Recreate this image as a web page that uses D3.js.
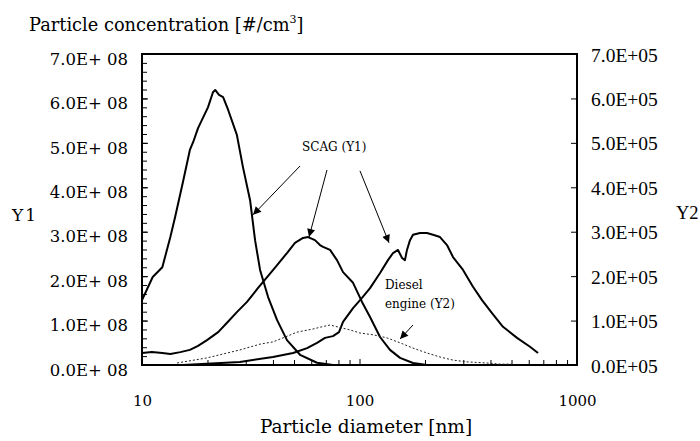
<!DOCTYPE html>
<html>
<head>
<meta charset="utf-8">
<script src="https://cdn.jsdelivr.net/npm/d3@7"></script>
<style>
  body { margin: 0; background: #fff; }
  svg { display: block; }
</style>
</head>
<body>
<script>
// SCAG (Y1) - ultrafine mode, peak near 22 nm
const scagFineD = [10, 11.2, 12.4, 13.5, 14.2, 15.4, 16.6, 17.2, 18.1, 20.1, 21.2, 21.7, 22.6, 23.6, 24.9, 27.3, 29.1, 31.4, 33.1, 34.9, 38.0, 41.8, 46.4, 53.3, 63.8, 75.5, 100, 150];
const scagFineN = [1.46e8, 1.98e8, 2.2e8, 2.88e8, 3.33e8, 4.1e8, 4.84e8, 5.02e8, 5.33e8, 5.8e8, 6.14e8, 6.19e8, 6.08e8, 6.03e8, 5.74e8, 5.18e8, 4.46e8, 3.71e8, 2.81e8, 2.14e8, 1.53e8, 1.01e8, 0.56e8, 0.23e8, 0.05e8, 0, 0, 0];

// SCAG (Y1) - middle mode, peak near 58 nm
const scagMidD = [10, 11.1, 12.4, 13.5, 15.0, 16.6, 18.1, 19.9, 22.4, 24.6, 27.3, 30.4, 34.1, 37.6, 41.8, 46.4, 50.5, 55.0, 58.0, 62.4, 65.8, 68.0, 73.2, 78.8, 84.0, 93.4, 102.7, 111.8, 124.3, 138.1, 153.6, 176.2, 204.3, 290];
const scagMidN = [0.27e8, 0.29e8, 0.27e8, 0.25e8, 0.29e8, 0.34e8, 0.43e8, 0.56e8, 0.74e8, 0.95e8, 1.19e8, 1.42e8, 1.73e8, 1.98e8, 2.25e8, 2.52e8, 2.75e8, 2.86e8, 2.88e8, 2.81e8, 2.7e8, 2.66e8, 2.59e8, 2.36e8, 2.09e8, 1.85e8, 1.42e8, 1.08e8, 0.63e8, 0.34e8, 0.16e8, 0.045e8, 0, 0];

// SCAG (Y1) - coarse mode, peak near 200 nm
const scagCoarseD = [15.4, 28.2, 40.0, 49.5, 57.4, 63.8, 69.4, 75.5, 80.5, 84.0, 93.4, 102.7, 111.8, 124.3, 135.2, 142.6, 150.3, 156.8, 161.8, 165.3, 170.7, 176.2, 189.8, 204.3, 217.7, 234.5, 252.5, 269.1, 299.2, 332.5, 365.8, 406.7, 456.8, 530, 608, 662];
const scagCoarseN = [0, 0.07e8, 0.18e8, 0.27e8, 0.38e8, 0.5e8, 0.61e8, 0.65e8, 0.74e8, 0.97e8, 1.28e8, 1.51e8, 1.73e8, 2.07e8, 2.36e8, 2.52e8, 2.59e8, 2.41e8, 2.36e8, 2.59e8, 2.81e8, 2.93e8, 2.97e8, 2.97e8, 2.93e8, 2.88e8, 2.7e8, 2.43e8, 2.14e8, 1.76e8, 1.46e8, 1.17e8, 0.86e8, 0.61e8, 0.41e8, 0.27e8];

// Diesel engine (Y2)
const dieselD = [14.5, 19.9, 28.2, 34.9, 40.0, 44.5, 51.6, 61.1, 67.2, 73.2, 80.5, 90.4, 100.5, 115.4, 133.8, 153.6, 176.2, 204.3, 234.5, 269.1, 312.2, 385.7, 442.6, 502.4];
const dieselN = [0.045e5, 0.16e5, 0.34e5, 0.47e5, 0.52e5, 0.61e5, 0.74e5, 0.81e5, 0.86e5, 0.9e5, 0.85e5, 0.79e5, 0.72e5, 0.68e5, 0.61e5, 0.5e5, 0.38e5, 0.27e5, 0.18e5, 0.11e5, 0.07e5, 0.045e5, 0.02e5, 0.02e5];

const y1Ticks = [0, 1e8, 2e8, 3e8, 4e8, 5e8, 6e8, 7e8];
const y2Ticks = [0, 1e5, 2e5, 3e5, 4e5, 5e5, 6e5, 7e5];
const xTicks = [10, 100, 1000];

// annotations, in data coordinates [diameter, Y1 value]
const scagArrows = [
  [[53.3, 4.48e8], [32.4, 3.38e8]],
  [[70.9, 4.39e8], [58.6, 2.88e8]],
  [[100.5, 4.37e8], [136.7, 2.75e8]]
];
const dieselArrow = [[176.2, 0.9e8], [153.6, 0.585e8]];

const width = 700, height = 441;
const margin = { top: 54, right: 123, bottom: 76, left: 142 };

const svg = d3.select('body').append('svg')
  .attr('width', width)
  .attr('height', height);

const x = d3.scaleLog().domain([10, 1000]).range([margin.left, width - margin.right]);
const y1 = d3.scaleLinear().domain([0, 7e8]).range([height - margin.bottom, margin.top]);
const y2 = d3.scaleLinear().domain([0, 7e5]).range([height - margin.bottom, margin.top]);

const serifA = 'DejaVu Serif, serif';
const serifB = 'Liberation Serif, Times New Roman, serif';

// minor ticks
const y1Minor = d3.range(0, 7e8 + 1, 2e7);
const xMinor = [20, 30, 40, 50, 60, 70, 80, 90, 200, 300, 400, 500, 600, 700, 800, 900];

svg.append('g')
  .attr('transform', `translate(${margin.left},0)`)
  .call(d3.axisLeft(y1).tickValues(y1Minor).tickSize(-5).tickFormat(''))
  .call(g => g.select('.domain').remove());

svg.append('g')
  .attr('transform', `translate(${margin.left},0)`)
  .call(d3.axisLeft(y1).tickValues(y1Ticks).tickSize(-6).tickPadding(14)
    .tickFormat(d => (d / 1e8).toFixed(1) + 'E+ 08'))
  .call(g => g.select('.domain').remove())
  .call(g => g.selectAll('text')
    .attr('font-family', serifA).attr('font-size', 16.5).attr('dy', '0.62em'));

svg.append('g')
  .attr('transform', `translate(${width - margin.right},0)`)
  .call(d3.axisRight(y2).tickValues(y2Ticks).tickSize(-6).tickPadding(14)
    .tickFormat(d => (d / 1e5).toFixed(1) + 'E+05'))
  .call(g => g.select('.domain').remove())
  .call(g => g.selectAll('text')
    .attr('font-family', serifB).attr('font-size', 19.5).attr('dy', '0.36em'));

svg.append('g')
  .attr('transform', `translate(0,${height - margin.bottom})`)
  .call(d3.axisBottom(x).tickValues(xMinor).tickSize(-5).tickFormat(''))
  .call(g => g.select('.domain').remove());

svg.append('g')
  .attr('transform', `translate(0,${height - margin.bottom})`)
  .call(d3.axisBottom(x).tickValues(xTicks).tickSize(-6).tickPadding(30).tickFormat(d3.format('d')))
  .call(g => g.select('.domain').remove())
  .call(g => g.selectAll('text')
    .attr('font-family', serifA).attr('font-size', 15));

svg.selectAll('.tick line').attr('stroke', '#000').attr('stroke-width', 1);

// plot frame
svg.append('rect')
  .attr('x', margin.left)
  .attr('y', margin.top)
  .attr('width', width - margin.left - margin.right)
  .attr('height', height - margin.top - margin.bottom)
  .attr('fill', 'none')
  .attr('stroke', '#000')
  .attr('stroke-width', 2);

// curves
const lineY1 = d3.line().x(d => x(d[0])).y(d => y1(d[1]));
const lineY2 = d3.line().x(d => x(d[0])).y(d => y2(d[1]));

[[scagFineD, scagFineN], [scagMidD, scagMidN], [scagCoarseD, scagCoarseN]].forEach(([ds, ns]) => {
  svg.append('path')
    .datum(d3.zip(ds, ns))
    .attr('d', lineY1)
    .attr('fill', 'none')
    .attr('stroke', '#000')
    .attr('stroke-width', 2)
    .attr('stroke-linejoin', 'round');
});

svg.append('path')
  .datum(d3.zip(dieselD, dieselN))
  .attr('d', lineY2)
  .attr('fill', 'none')
  .attr('stroke', '#222')
  .attr('stroke-width', 1)
  .attr('stroke-dasharray', '2,2');

// arrows
svg.append('defs').append('marker')
  .attr('id', 'head')
  .attr('viewBox', '0 0 10 10')
  .attr('refX', 10).attr('refY', 5)
  .attr('markerUnits', 'userSpaceOnUse')
  .attr('markerWidth', 9).attr('markerHeight', 8)
  .attr('orient', 'auto')
  .append('path')
  .attr('d', 'M0,0L10,5L0,10z')
  .attr('fill', '#000');

scagArrows.concat([dieselArrow]).forEach(a => {
  svg.append('line')
    .attr('x1', x(a[0][0])).attr('y1', y1(a[0][1]))
    .attr('x2', x(a[1][0])).attr('y2', y1(a[1][1]))
    .attr('stroke', '#000')
    .attr('stroke-width', 1)
    .attr('marker-end', 'url(#head)');
});

svg.append('text')
  .attr('x', x(54.4)).attr('y', y1(4.82e8))
  .attr('font-family', serifA).attr('font-size', 12)
  .text('SCAG (Y1)');

svg.append('text')
  .attr('x', x(131)).attr('y', y1(1.71e8))
  .attr('font-family', serifA).attr('font-size', 12)
  .text('Diesel');
svg.append('text')
  .attr('x', x(131)).attr('y', y1(1.28e8))
  .attr('font-family', serifA).attr('font-size', 12)
  .text('engine (Y2)');

// axis titles
const title = svg.append('text')
  .attr('x', 29).attr('y', 31)
  .attr('font-family', serifA).attr('font-size', 17.8);
title.append('tspan').text('Particle concentration [#/cm');
title.append('tspan').attr('font-size', 11).attr('dy', -8).text('3');
title.append('tspan').attr('dy', 8).text(']');

svg.append('text')
  .attr('x', 366)
  .attr('y', 433)
  .attr('text-anchor', 'middle')
  .attr('font-family', serifA).attr('font-size', 18.5)
  .text('Particle diameter [nm]');

svg.append('text')
  .attr('x', 12).attr('y', 221)
  .attr('font-family', serifA).attr('font-size', 17)
  .attr('letter-spacing', 2)
  .text('Y1');

svg.append('text')
  .attr('x', 676).attr('y', 219)
  .attr('font-family', serifB).attr('font-size', 18.5)
  .text('Y2');
</script>
</body>
</html>
